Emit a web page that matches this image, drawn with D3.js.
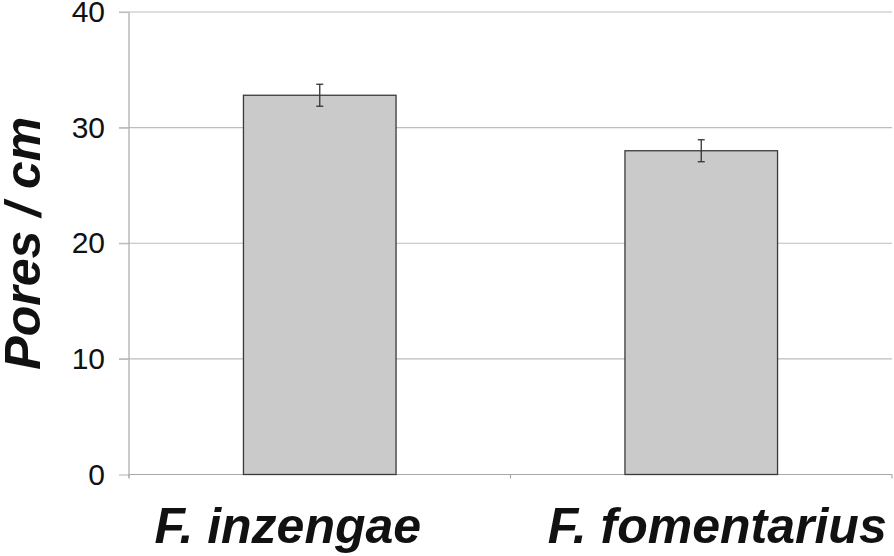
<!DOCTYPE html>
<html><head><meta charset="utf-8">
<script src="https://cdn.jsdelivr.net/npm/d3@7"></script>
<style>body{margin:0;background:#fff}svg{display:block}</style>
</head><body>
<svg id="c" width="894" height="556"></svg>
<script>
const categories = ["F. inzengae", "F. fomentarius"];
const values = [32.8, 28.0];
const errors = [0.95, 0.95];
const yTicks = [0, 10, 20, 30, 40];
const yLabel = "Pores / cm";
const labelShift = [-32, 16];

const svg = d3.select("#c");
const m = {left: 129, right: 892, top: 12, bottom: 474.5};
const x = d3.scaleBand().domain(categories).range([m.left, m.right]).paddingInner(0.6).paddingOuter(0.3);
const y = d3.scaleLinear().domain([0, 40]).range([m.bottom, m.top]);
const step = x.step();

// gridlines
svg.append("g").selectAll("line").data(yTicks.filter(d => d > 0)).join("line")
  .attr("x1", m.left - 10).attr("x2", m.right).attr("y1", d => y(d)).attr("y2", d => y(d))
  .attr("stroke", "#bdbdbd").attr("stroke-width", 1.2);

// y axis
const ya = svg.append("g").attr("transform", `translate(${m.left},0)`)
  .call(d3.axisLeft(y).tickValues(yTicks).tickSize(10).tickPadding(14));
ya.select(".domain").attr("stroke", "#a8a8a8").attr("stroke-width", 1.2).attr("d", `M0,${m.top}V${m.bottom + 3}`);
ya.selectAll(".tick line").attr("stroke", "#bdbdbd").attr("stroke-width", 1.2);
ya.selectAll(".tick text").attr("font-family", "Liberation Sans, Arial, sans-serif").attr("font-size", 30).attr("fill", "#111");

// x axis baseline and boundary ticks
svg.append("line").attr("x1", m.left).attr("x2", m.right).attr("y1", y(0)).attr("y2", y(0))
  .attr("stroke", "#a8a8a8").attr("stroke-width", 1.2);
const bounds = [x(categories[0]) - step * 0.3, x(categories[1]) - step * 0.3, x(categories[1]) + step * 0.7];
svg.append("g").selectAll("line").data(bounds).join("line")
  .attr("x1", d => d).attr("x2", d => d).attr("y1", y(0)).attr("y2", y(0) + 4)
  .attr("stroke", "#a8a8a8").attr("stroke-width", 1.2);

// bars
svg.append("g").selectAll("rect").data(values).join("rect")
  .attr("x", (d, i) => x(categories[i])).attr("width", x.bandwidth())
  .attr("y", d => y(d)).attr("height", d => y(0) - y(d))
  .attr("fill", "#cacaca").attr("stroke", "#3a3a3a").attr("stroke-width", 1.3);

// error bars
const eg = svg.append("g").attr("stroke", "#333").attr("stroke-width", 1.3);
values.forEach((v, i) => {
  const cx = x(categories[i]) + x.bandwidth() / 2;
  eg.append("line").attr("x1", cx).attr("x2", cx).attr("y1", y(v + errors[i])).attr("y2", y(v - errors[i]));
  [v + errors[i], v - errors[i]].forEach(e => {
    eg.append("line").attr("x1", cx - 3.5).attr("x2", cx + 3.5).attr("y1", y(e)).attr("y2", y(e));
  });
});

// category labels
svg.append("g").selectAll("text").data(categories).join("text")
  .attr("x", (d, i) => x(d) + x.bandwidth() / 2 + labelShift[i]).attr("y", 543)
  .attr("text-anchor", "middle")
  .attr("font-family", "Liberation Sans, Arial, sans-serif").attr("font-size", 50)
  .attr("font-weight", "bold").attr("font-style", "italic").attr("fill", "#111")
  .text(d => d);

// y label
svg.append("text").attr("transform", `translate(40,${(y(0)+y(40))/2}) rotate(-90)`)
  .attr("text-anchor", "middle")
  .attr("font-family", "Liberation Sans, Arial, sans-serif").attr("font-size", 50)
  .attr("font-weight", "bold").attr("font-style", "italic").attr("fill", "#111")
  .text(yLabel);
</script>
</body></html>
